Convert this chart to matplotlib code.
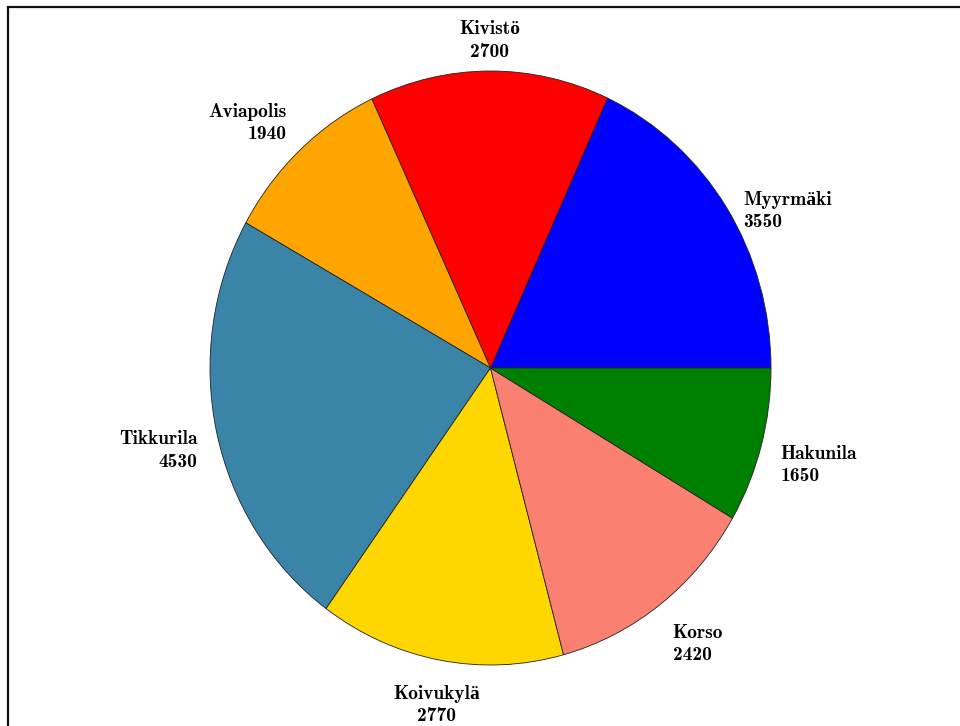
import numpy as np
import matplotlib
matplotlib.use("Agg")
import matplotlib.pyplot as plt
from matplotlib.patches import Rectangle

# data
names = ["Myyrmäki", "Kivistö", "Aviapolis", "Tikkurila", "Koivukylä", "Korso", "Hakunila"]
values = [3550, 2700, 1940, 4530, 2770, 2420, 1650]
colors = ["#0000FF", "#FF0000", "#FFA500", "#3A84A8", "#FFD700", "#FA8072", "#008000"]

labels = [n + "\n" + str(v) for n, v in zip(names, values)]

fig = plt.figure(figsize=(9.6, 7.26), dpi=100)
ax = fig.add_axes([0, 0, 1, 1])

wedges, texts = ax.pie(values, labels=labels, colors=colors, startangle=0,
                       counterclock=True, labeldistance=1.07,
                       wedgeprops=dict(edgecolor="#222222", linewidth=0.6),
                       textprops=dict(family=["cmb10", "Liberation Serif"], fontsize=14,
                                      fontweight="bold", linespacing=1.3))

# stretched (not equal aspect), as in the picture
ax.set_aspect("auto")
ax.set_xlim(-1.7487, 1.6738)
ax.set_ylim(-1.2054, 1.2391)
ax.axis("off")

# label placement like the original
r_side = 1.07
r_up = 1.035
r_down = 1.085
for w, t in zip(wedges, texts):
    ang = np.deg2rad((w.theta1 + w.theta2) / 2)
    c, s = np.cos(ang), np.sin(ang)
    if c > 0.2:
        t.set_ha("left")
    elif c < -0.2:
        t.set_ha("right")
    else:
        t.set_ha("center")
    t.set_multialignment(t.get_ha())
    if abs(s) < 0.6:
        t.set_va("top")
        t.set_position((r_side * c, r_side * s + 0.02))
    elif s > 0:
        t.set_va("bottom")
        t.set_position((r_side * c, r_up * s))
    else:
        t.set_va("top")
        t.set_position((r_side * c, r_down * s))

fig.patches.append(Rectangle((8 / 960, -0.1), 1.2, (726 - 7) / 726 + 0.1,
                             transform=fig.transFigure, fill=False,
                             edgecolor="#111111", linewidth=1.6, clip_on=False))

fig.savefig("out.png", dpi=100)
